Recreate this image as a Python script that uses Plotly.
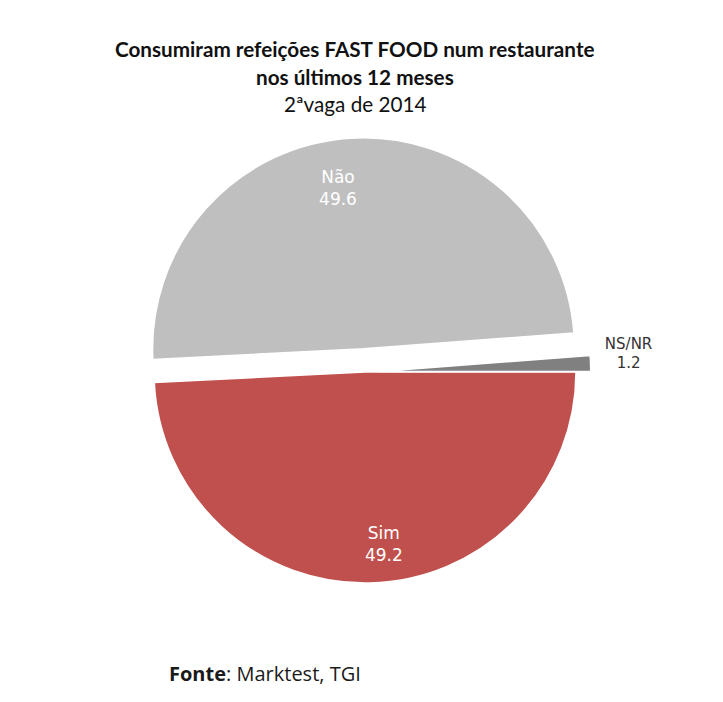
import plotly.graph_objects as go

labels = ["Sim", "Não", "NS/NR"]
values = [49.2, 49.6, 1.2]
colors = ["#C0504D", "#BFBFBF", "#808080"]
pulls = [0, 0.11, 0.07]

title_lines = ["Consumiram refeições FAST FOOD num restaurante", "nos últimos 12 meses", "2ªvaga de 2014"]
source_label = "Fonte"
source_text = "Marktest, TGI"

NB = "\u00a0"
# text padding (blank lines / spaces) only nudges where the labels sit inside the slices
templates = [
    "<br>".join([NB] * 6) + "<br>" + NB * 6 + "%{label}<br>" + NB * 6 + "%{value}",
    "%{label}" + NB * 7 + "<br>%{value}" + NB * 7 + "<br>" + "<br>".join([NB] * 5),
    "%{label}<br>%{value}<br>" + NB,
]

fig = go.Figure(go.Pie(
    labels=labels,
    values=values,
    sort=False,
    direction="clockwise",
    rotation=90,
    pull=pulls,
    marker=dict(colors=colors, line=dict(color="white", width=1.5)),
    texttemplate=templates,
    textposition=["inside", "inside", "outside"],
    insidetextorientation="horizontal",
    insidetextfont=dict(family="DejaVu Sans", size=17, color="white"),
    outsidetextfont=dict(family="DejaVu Sans", size=15, color="#333333"),
    showlegend=False,
    hoverinfo="label+value",
    domain=dict(x=[0.1809, 0.8288], y=[0.1365, 0.8037]),
))

title_y = [49, 77, 104]
for i, line in enumerate(title_lines):
    fig.add_annotation(
        x=0.491, y=1 - title_y[i] / 702, xref="paper", yref="paper",
        xanchor="center", yanchor="middle",
        text=f"<b>{line}</b>" if i < 2 else line,
        showarrow=False, align="center",
        font=dict(family="Lato", size=20.7, color="#111111"),
    )
fig.add_annotation(
    x=167/723, y=(702-673)/702, xref="paper", yref="paper", xanchor="left", yanchor="middle",
    text=f"<b>{source_label}</b>: {source_text}",
    showarrow=False,
    font=dict(family="Open Sans", size=20, color="#1a1a1a"),
)

fig.update_layout(
    width=723, height=702,
    margin=dict(l=0, r=0, t=0, b=0),
    paper_bgcolor="white", plot_bgcolor="white",
)
fig.write_html("out.html")
